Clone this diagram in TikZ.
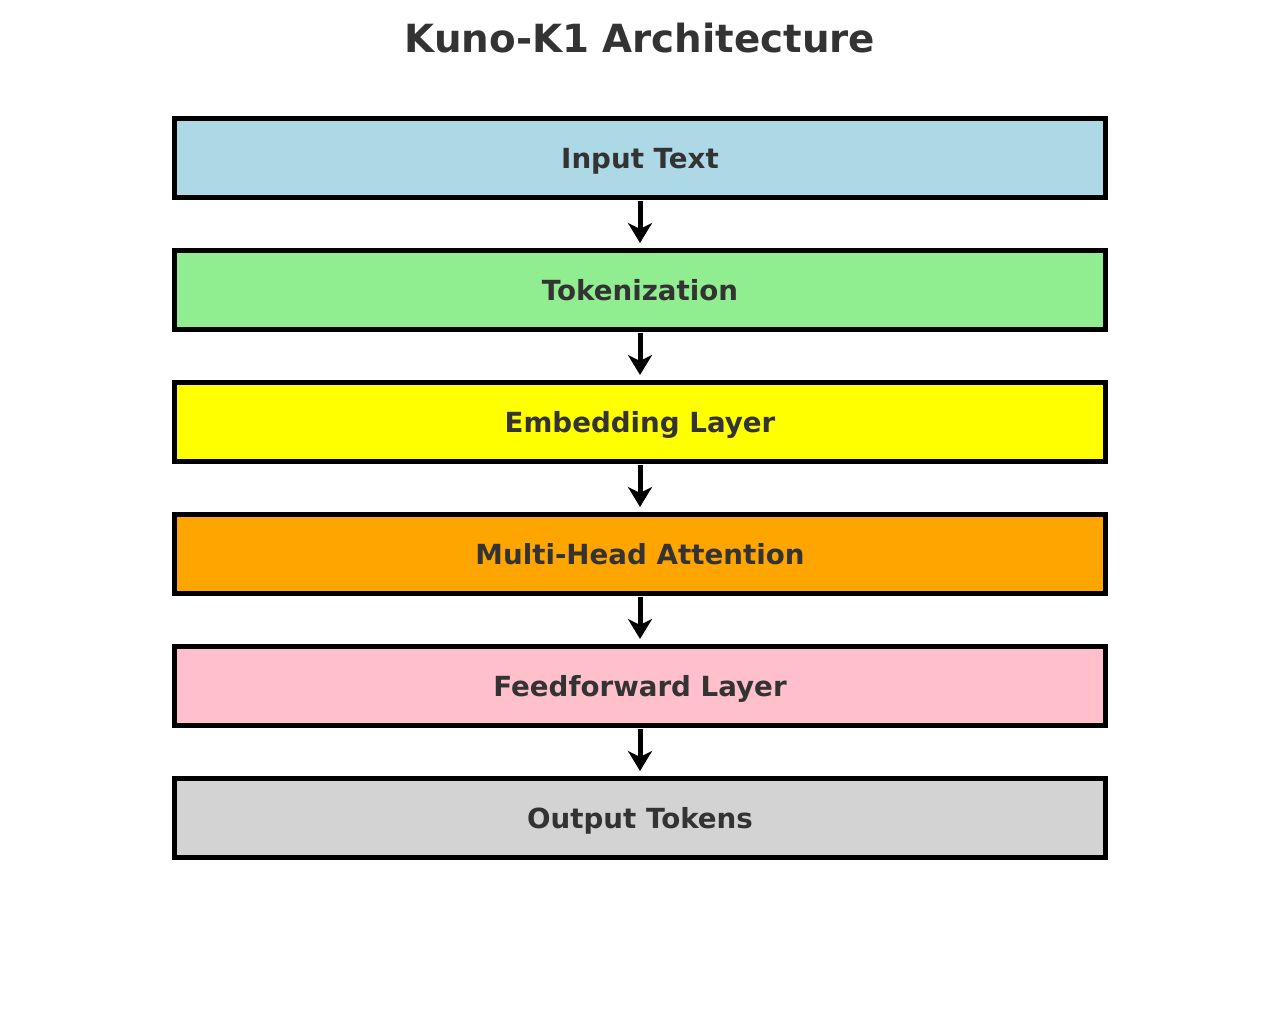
\documentclass[tikz,border=0pt]{standalone}
\usepackage{fontspec}
\setmainfont{DejaVu Sans}
\usetikzlibrary{arrows.meta,positioning}
\definecolor{txt}{HTML}{333333}
\definecolor{lblue}{HTML}{ADD8E6}
\definecolor{lgreen}{HTML}{90EE90}
\definecolor{lyellow}{HTML}{FFFF00}
\definecolor{lorange}{HTML}{FFA500}
\definecolor{lpink}{HTML}{FFC0CB}
\definecolor{lgray}{HTML}{D3D3D3}
\tikzset{
    layer/.style =  {rectangle,
                    draw=black,
                    text=txt,
                    line width=5pt,
                    minimum width=931pt,
                    minimum height=79pt,
                    text height=20.5pt,
                    text depth=0pt,
                    font=\fontsize{27.7}{32}\selectfont\bfseries},
    title/.style =  {text=txt,
                    font=\fontsize{38.8}{46}\selectfont\bfseries},
    flow/.style =   {-{Stealth[length=20pt 0,width=24pt 0,inset=6pt 0]},
                    line width=5pt,
                    shorten <= 1pt,
                    shorten >= 5pt},
    node distance=132pt}

\begin{document}
\begin{tikzpicture}[x=1pt,y=1pt]
                \useasboundingbox (0,0) rectangle (1280,-1010);
                \node[title]        (T) at (640,-38)        {Kuno-K1 Architecture};
                \node[layer,fill=lblue]   (A) at (640,-158) {Input Text};
                \node[layer,fill=lgreen]  (B) [below of=A]    {Tokenization};
                \node[layer,fill=lyellow] (C) [below of=B]    {Embedding Layer};
                \node[layer,fill=lorange] (D) [below of=C]    {Multi-Head Attention};
                \node[layer,fill=lpink]   (E) [below of=D]    {Feedforward Layer};
                \node[layer,fill=lgray]   (F) [below of=E]    {Output Tokens};
                \foreach \u/\v in {A/B,B/C,C/D,D/E,E/F}
                    \draw[flow] (\u.south) -- (\v.north);
        \end{tikzpicture}
\end{document}
